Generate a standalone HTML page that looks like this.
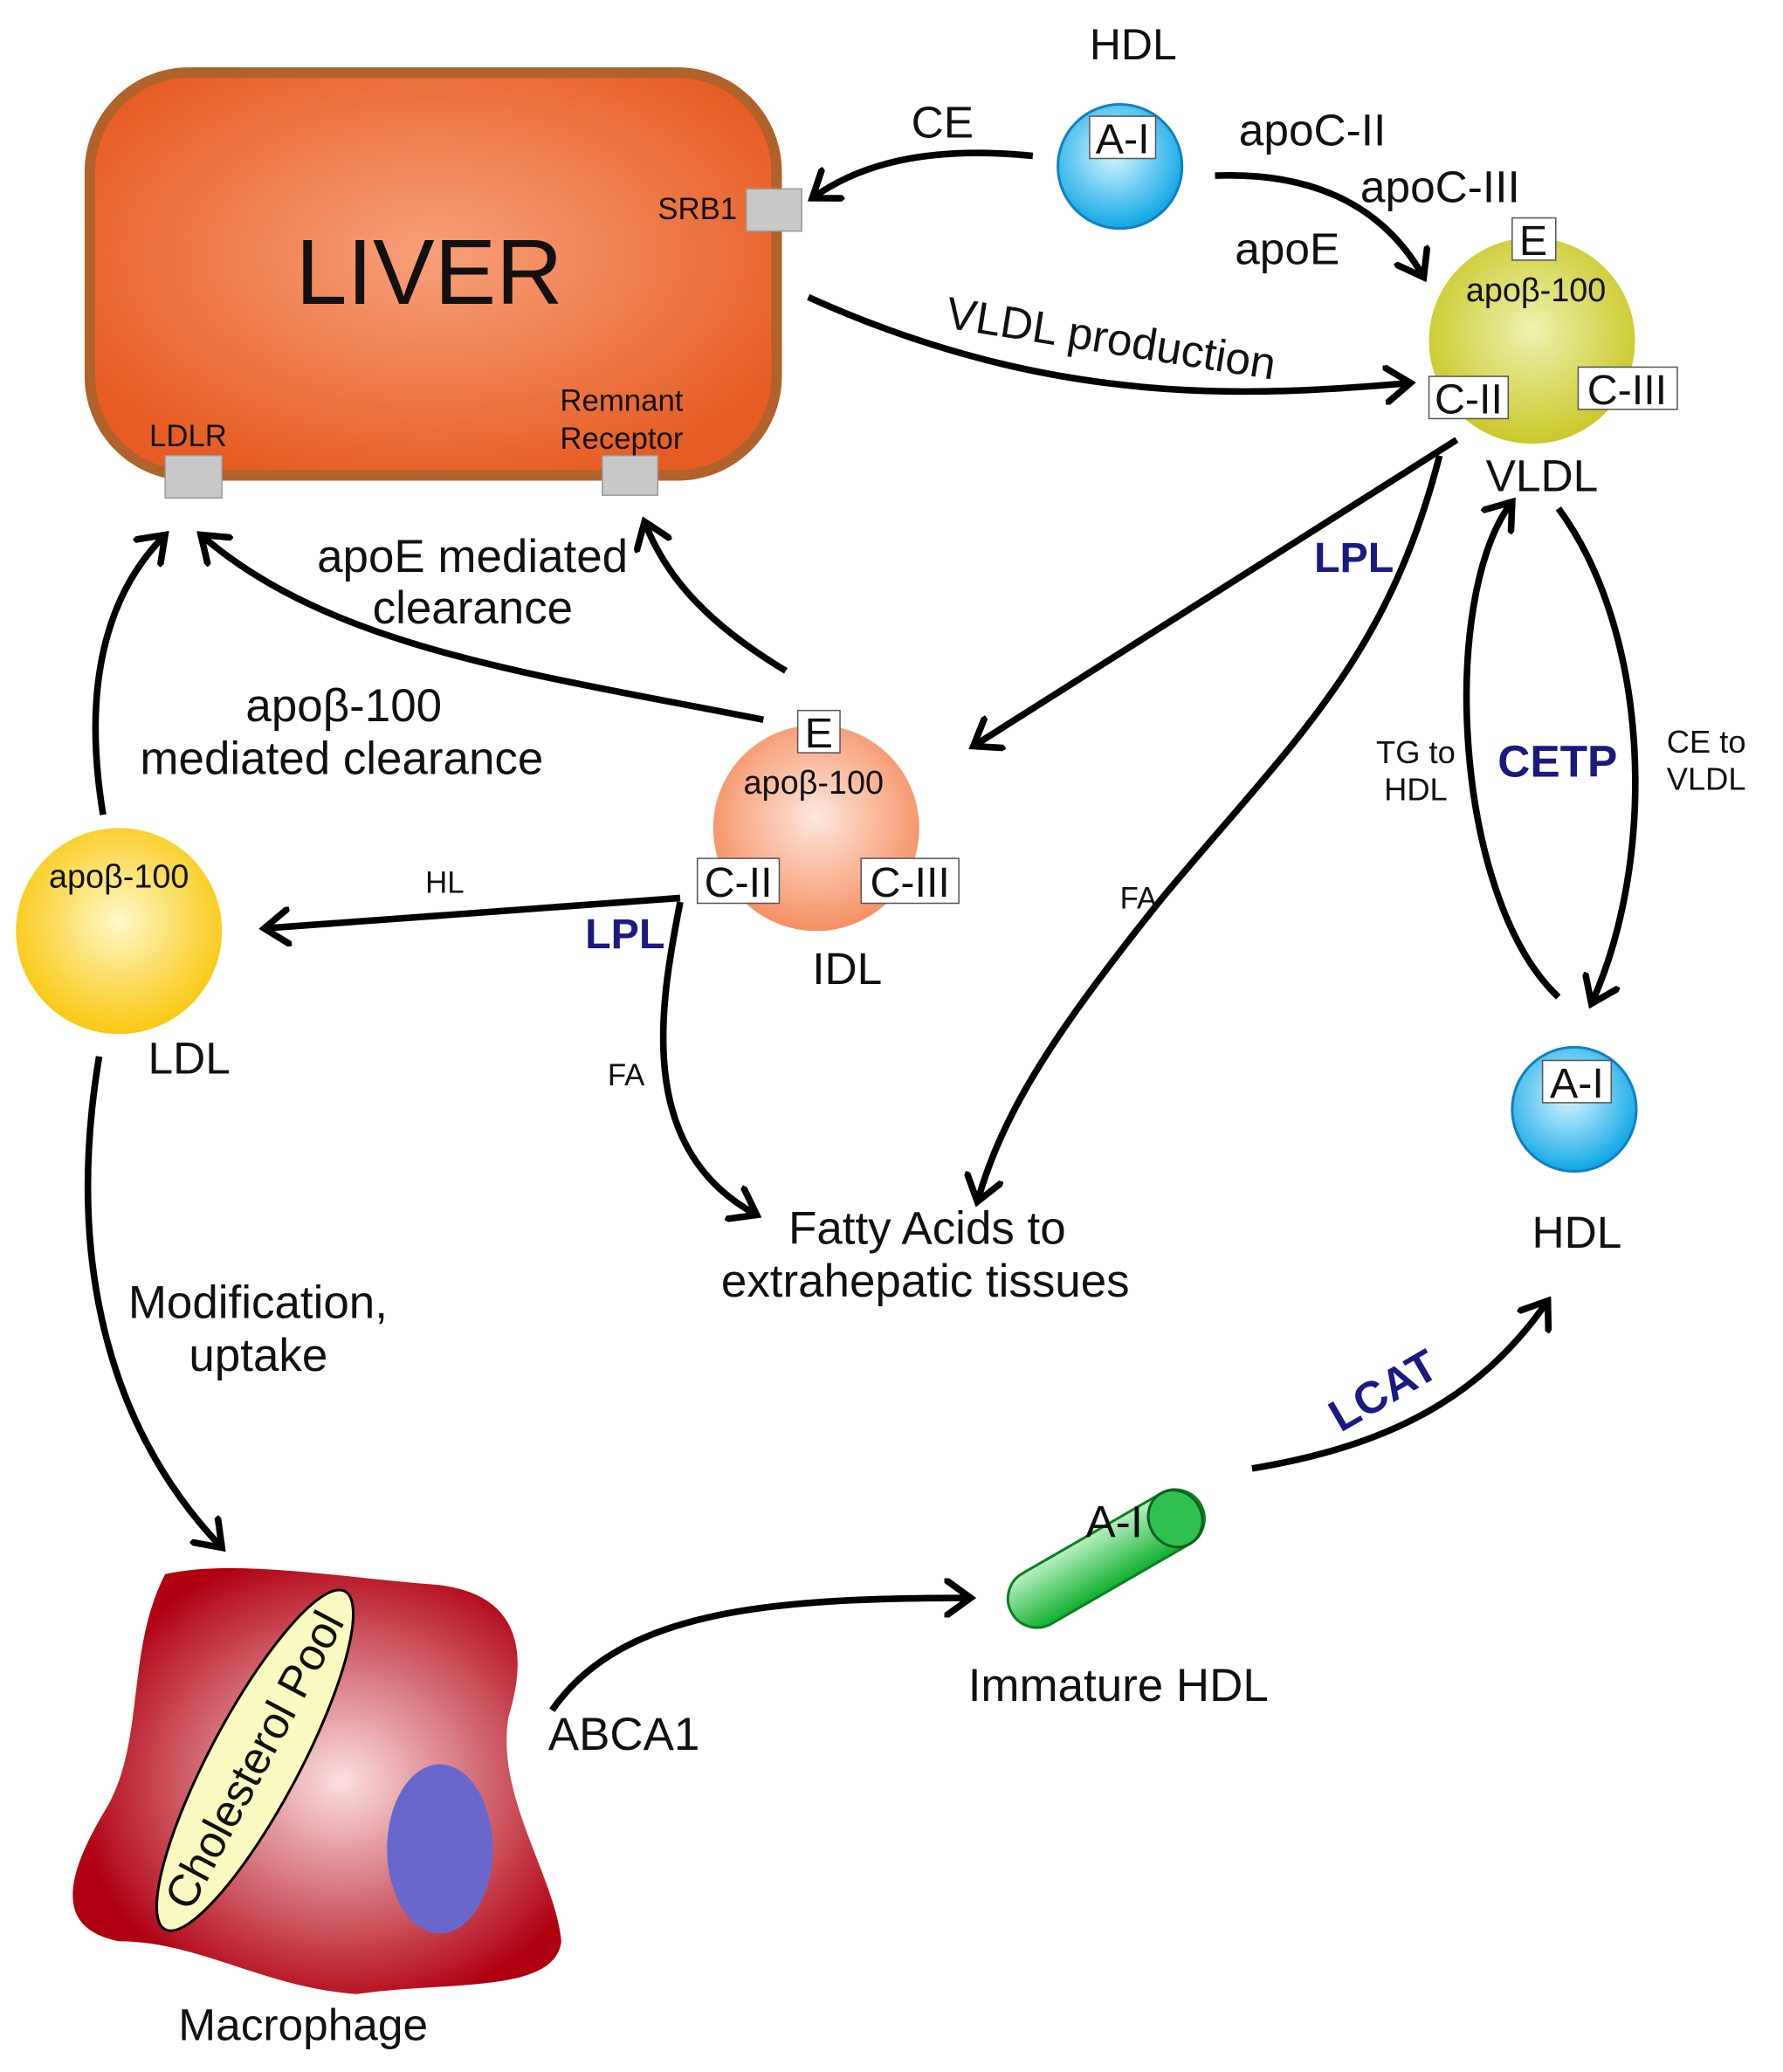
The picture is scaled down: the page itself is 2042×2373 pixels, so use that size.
<!DOCTYPE html>
<html><head><meta charset="utf-8"><style>html,body{margin:0;padding:0;background:#fff}svg{display:block}text{font-family:"Liberation Sans",sans-serif;fill:#111}</style></head><body>
<svg width="2042" height="2373" viewBox="0 0 1350 1569" xmlns="http://www.w3.org/2000/svg">
<defs>
<marker id="a" viewBox="-20 -15 24 30" markerWidth="24" markerHeight="30" refX="0" refY="0" orient="auto" markerUnits="userSpaceOnUse"><path d="M-18,-13 L0,0 L-18,13" fill="none" stroke="#000" stroke-width="5" stroke-linecap="round"/></marker>
<radialGradient id="liv" cx="0.5" cy="0.45" r="0.6"><stop offset="0" stop-color="#f8a07a"/><stop offset="1" stop-color="#e65c22"/></radialGradient>
<radialGradient id="blue" cx="0.45" cy="0.4" r="0.6"><stop offset="0" stop-color="#d8f6ff"/><stop offset="1" stop-color="#10a8e6"/></radialGradient>
<radialGradient id="yg" cx="0.5" cy="0.45" r="0.6"><stop offset="0" stop-color="#eef2b0"/><stop offset="1" stop-color="#c8c41c"/></radialGradient>
<radialGradient id="pe" cx="0.5" cy="0.45" r="0.6"><stop offset="0" stop-color="#fde8dc"/><stop offset="1" stop-color="#f58858"/></radialGradient>
<radialGradient id="ye" cx="0.5" cy="0.45" r="0.6"><stop offset="0" stop-color="#fff8c8"/><stop offset="1" stop-color="#f8c400"/></radialGradient>
<radialGradient id="mac" cx="0.55" cy="0.5" r="0.55"><stop offset="0" stop-color="#fbe0e0"/><stop offset="1" stop-color="#b00010"/></radialGradient>
<linearGradient id="gr" x1="0" y1="0" x2="0" y2="1"><stop offset="0" stop-color="#b8f0c0"/><stop offset="1" stop-color="#10b030"/></linearGradient>
</defs>
<g stroke="#000" stroke-width="5" fill="none" marker-end="url(#a)">
<path d="M782,118 C700,110 650,125 615,150"/>
<path d="M920,133 C1000,130 1050,160 1078,210"/>
<path d="M612,225 C800,310 950,300 1068,290"/>
<path d="M1103,333 L737,565"/>
<path d="M1090,345 C1050,500 980,560 880,680 C800,780 760,840 740,910"/>
<path d="M595,508 C540,475 505,440 488,395"/>
<path d="M578,545 C400,510 250,490 152,405"/>
<path d="M78,617 C62,520 80,450 125,405"/>
<path d="M515,680 L200,703"/>
<path d="M515,683 C500,760 480,870 573,920"/>
<path d="M75,800 C50,950 80,1080 168,1172"/>
<path d="M1180,755 C1100,680 1090,450 1145,380"/>
<path d="M1180,385 C1250,480 1255,650 1205,760"/>
<path d="M948,1112 C1050,1095 1120,1060 1172,985"/>
<path d="M418,1295 C470,1220 580,1210 735,1210"/>
</g>
<rect x="68" y="55" width="520" height="305" rx="75" fill="url(#liv)" stroke="#b0622a" stroke-width="8"/>
<text x="325" y="230" font-size="70" text-anchor="middle">LIVER</text>
<rect x="565" y="143" width="42" height="32" fill="#c8c8c8" stroke="#999"/>
<text x="498" y="166" font-size="23">SRB1</text>
<rect x="125" y="345" width="43" height="32" fill="#c8c8c8" stroke="#999"/>
<text x="113" y="338" font-size="23">LDLR</text>
<rect x="456" y="345" width="42" height="30" fill="#c8c8c8" stroke="#999"/>
<text x="424" y="311" font-size="23">Remnant</text><text x="424" y="340" font-size="23">Receptor</text>
<text x="825" y="45" font-size="33">HDL</text>
<circle cx="848" cy="126" r="47" fill="url(#blue)" stroke="#1080c0" stroke-width="2"/>
<rect x="825" y="88" width="50" height="32" fill="#fff" stroke="#555"/><text x="850" y="116" font-size="32" text-anchor="middle">A-I</text>
<text x="690" y="104" font-size="34">CE</text>
<text x="938" y="110" font-size="34">apoC-II</text>
<text x="1030" y="153" font-size="34">apoC-III</text>
<text x="935" y="200" font-size="34">apoE</text>
<circle cx="1160" cy="258" r="78" fill="url(#yg)"/>
<rect x="1145" y="165" width="33" height="32" fill="#fff" stroke="#555"/><text x="1161" y="193" font-size="32" text-anchor="middle">E</text>
<text x="1163" y="228" font-size="25" text-anchor="middle">apoβ-100</text>
<rect x="1082" y="285" width="60" height="32" fill="#fff" stroke="#555"/><text x="1112" y="313" font-size="32" text-anchor="middle">C-II</text>
<rect x="1195" y="278" width="75" height="32" fill="#fff" stroke="#555"/><text x="1232" y="306" font-size="32" text-anchor="middle">C-III</text>
<text x="1125" y="372" font-size="34">VLDL</text>
<text x="715" y="248" font-size="34" transform="rotate(9 715 248)">VLDL production</text>
<text x="995" y="433" font-size="32" font-weight="bold" style="fill:#1a1a80">LPL</text>
<text x="848" y="688" font-size="23">FA</text>
<circle cx="618" cy="627" r="78" fill="url(#pe)"/>
<rect x="604" y="538" width="32" height="32" fill="#fff" stroke="#555"/><text x="620" y="566" font-size="32" text-anchor="middle">E</text>
<text x="616" y="601" font-size="25" text-anchor="middle">apoβ-100</text>
<rect x="528" y="650" width="62" height="34" fill="#fff" stroke="#555"/><text x="559" y="679" font-size="32" text-anchor="middle">C-II</text>
<rect x="652" y="650" width="74" height="34" fill="#fff" stroke="#555"/><text x="689" y="679" font-size="32" text-anchor="middle">C-III</text>
<text x="615" y="745" font-size="34">IDL</text>
<text x="240" y="433" font-size="35">apoE mediated</text><text x="282" y="472" font-size="35">clearance</text>
<text x="186" y="546" font-size="35">apoβ-100</text><text x="106" y="586" font-size="35">mediated clearance</text>
<circle cx="90" cy="705" r="78" fill="url(#ye)"/>
<text x="90" y="672" font-size="25" text-anchor="middle">apoβ-100</text>
<text x="112" y="813" font-size="34">LDL</text>
<text x="322" y="676" font-size="23">HL</text>
<text x="443" y="718" font-size="32" font-weight="bold" style="fill:#1a1a80">LPL</text>
<text x="460" y="822" font-size="23">FA</text>
<text x="597" y="942" font-size="35">Fatty Acids to</text><text x="546" y="982" font-size="35">extrahepatic tissues</text>
<text x="97" y="998" font-size="35">Modification,</text><text x="143" y="1038" font-size="35">uptake</text>
<text x="1042" y="578" font-size="24">TG to</text><text x="1048" y="606" font-size="24">HDL</text>
<text x="1134" y="588" font-size="34" font-weight="bold" style="fill:#1a1a80">CETP</text>
<text x="1262" y="570" font-size="24">CE to</text><text x="1262" y="598" font-size="24">VLDL</text>
<circle cx="1192" cy="840" r="47" fill="url(#blue)" stroke="#1080c0" stroke-width="2"/>
<rect x="1168" y="803" width="52" height="32" fill="#fff" stroke="#555"/><text x="1194" y="831" font-size="32" text-anchor="middle">A-I</text>
<text x="1160" y="945" font-size="34">HDL</text>
<text x="1015" y="1085" font-size="34" font-weight="bold" style="fill:#1a1a80" transform="rotate(-30 1015 1085)">LCAT</text>
<g transform="rotate(-30 838 1180)">
<rect x="755" y="1158" width="165" height="44" rx="22" fill="url(#gr)" stroke="#0a8020" stroke-width="2"/>
<ellipse cx="898" cy="1180" rx="20" ry="22" fill="#30c050" stroke="#0a6020" stroke-width="2"/>
</g>
<text x="822" y="1164" font-size="34">A-I</text>
<text x="733" y="1288" font-size="35">Immature HDL</text>
<text x="415" y="1325" font-size="35">ABCA1</text>
<path d="M125,1192 C180,1180 260,1195 330,1200 C380,1205 405,1235 385,1300 C375,1360 420,1420 425,1470 C420,1510 340,1500 270,1510 C200,1505 150,1470 90,1470 C40,1460 50,1420 80,1370 C110,1320 95,1250 125,1192 Z" fill="url(#mac)"/>
<g transform="rotate(-62 193 1333)">
<ellipse cx="193" cy="1333" rx="145" ry="34" fill="#fafac0" stroke="#000" stroke-width="2"/>
<text x="193" y="1344" font-size="34" text-anchor="middle">Cholesterol Pool</text>
</g>
<ellipse cx="333" cy="1400" rx="40" ry="64" fill="#6868cc"/>
<text x="135" y="1545" font-size="34">Macrophage</text>
</svg>
</body></html>
